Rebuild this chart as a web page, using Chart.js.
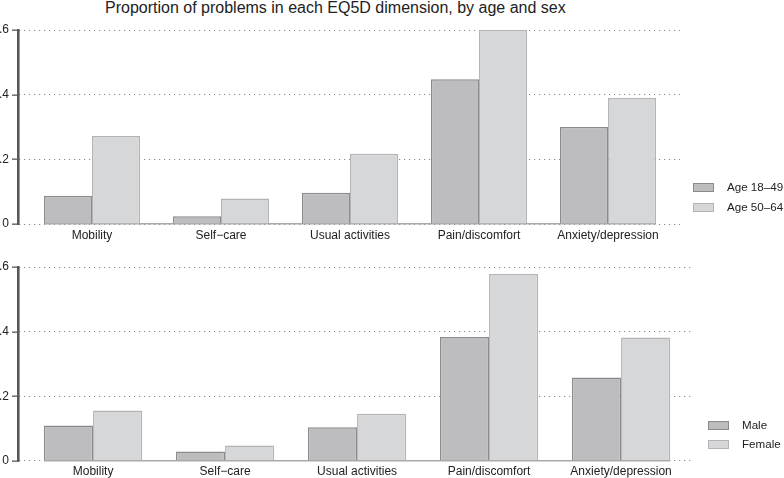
<!DOCTYPE html>
<html>
<head>
<meta charset="utf-8">
<script src="https://cdn.jsdelivr.net/npm/chart.js@4"></script>
<style>
  body { margin: 0; background: #fff; font-family: "Liberation Sans", Arial, sans-serif; }
  #wrap { position: relative; width: 784px; height: 478px; overflow: hidden; }
  #title { position: absolute; left: 105px; top: -1px; font-size: 16px; line-height: 18px; color: #222; white-space: nowrap; }
  canvas { position: absolute; left: 0; }
  .leg { position: absolute; font-size: 11.6px; color: #222; }
  .leg .row { position: absolute; left: 0; white-space: nowrap; height: 14px; line-height: 14px; }
  .leg .sw { position: absolute; left: 0; top: 2px; width: 19px; height: 7px; border: 1px solid; }
  .leg .tx { position: absolute; left: 34px; top: -1px; }
</style>
</head>
<body>
<div id="wrap">
  <div id="title">Proportion of problems in each EQ5D dimension, by age and sex</div>
  <canvas id="ageChart" style="top:0"></canvas>
  <canvas id="sexChart" style="top:245px"></canvas>
  <div id="ageLegend" class="leg" style="left:693px; top:181px"></div>
  <div id="sexLegend" class="leg" style="left:708px; top:419px"></div>
</div>
<script>
const categories = ["Mobility", "Self\u2212care", "Usual activities", "Pain/discomfort", "Anxiety/depression"];
const ageGroups = ["Age 18\u201349", "Age 50\u201364"];
const age1849 = [0.087, 0.024, 0.097, 0.448, 0.300];
const age5064 = [0.272, 0.079, 0.217, 0.600, 0.390];
const sexGroups = ["Male", "Female"];
const male = [0.109, 0.029, 0.104, 0.383, 0.258];
const female = [0.156, 0.047, 0.146, 0.578, 0.382];
const yTicks = [0, 0.2, 0.4, 0.6];

const darkFill = "#bdbdbf", darkLine = "#8b8b8d";
const lightFill = "#d6d7d9", lightLine = "#b4b4b6";

Chart.defaults.font.family = '"Liberation Sans", Arial, sans-serif';
Chart.defaults.color = "#222";

// solid baseline under the bars, from first bar to last bar
const baseline = {
  id: "baseline",
  beforeDatasetsDraw(chart) {
    const first = chart.getDatasetMeta(0).data[0];
    const lastMeta = chart.getDatasetMeta(chart.data.datasets.length - 1);
    const last = lastMeta.data[lastMeta.data.length - 1];
    const y = chart.scales.y.getPixelForValue(0);
    const ctx = chart.ctx;
    ctx.save();
    ctx.fillStyle = "#a9a9ab";
    ctx.fillRect(first.x - first.width / 2, Math.round(y) - 1, last.x - first.x + (first.width + last.width) / 2, 1.5);
    ctx.restore();
  }
};

// y axis line with small solid tick marks
const yAxisLine = {
  id: "yAxisLine",
  afterDraw(chart) {
    const s = chart.scales.y, ctx = chart.ctx;
    const x = Math.round(s.right);
    ctx.save();
    ctx.fillStyle = "#585858";
    ctx.fillRect(x - 2, s.top - 1, 2.6, s.bottom - s.top + 2);
    s.ticks.forEach(t => {
      const py = Math.round(s.getPixelForValue(t.value));
      ctx.fillRect(x - 7, py - 0.5, 6, 1.3);
    });
    ctx.restore();
  }
};

function makeChart(id, height, names, a, b, pad, xmin, xmax, xHeight) {
  const canvas = document.getElementById(id);
  canvas.style.width = "784px";
  canvas.style.height = height + "px";
  canvas.width = 784;
  canvas.height = height;
  return new Chart(canvas, {
    type: "bar",
    data: {
      datasets: [
        { label: names[0], data: a.map((v, i) => ({ x: i, y: v })),
          backgroundColor: darkFill, borderColor: darkLine, borderWidth: 1.5 },
        { label: names[1], data: b.map((v, i) => ({ x: i, y: v })),
          backgroundColor: lightFill, borderColor: lightLine, borderWidth: 1.5 }
      ]
    },
    options: {
      responsive: false,
      animation: false,
      categoryPercentage: 0.745,
      barPercentage: 1,
      layout: { padding: pad },
      plugins: { legend: { display: false }, tooltip: { enabled: false } },
      scales: {
        x: {
          type: "linear",
          offset: false,
          bounds: "data",
          min: xmin,
          max: xmax,
          grid: { display: false, drawTicks: false, offset: false },
          border: { display: false },
          afterBuildTicks: s => { s.ticks = categories.map((c, i) => ({ value: i })); },
          afterFit: s => { s.height = xHeight; },
          ticks: {
            autoSkip: false,
            maxRotation: 0,
            padding: 4,
            font: { size: 12 },
            color: "#222",
            callback: v => categories[v]
          }
        },
        y: {
          min: 0,
          max: 0.6,
          afterBuildTicks: s => { s.ticks = yTicks.map(v => ({ value: v })); },
          afterFit: s => { s.width = 19; },
          grid: { color: "#8a8a8a", lineWidth: 1, drawTicks: false },
          border: { display: false, dash: [1.2, 3.8] },
          ticks: {
            padding: 10,
            font: { size: 12 },
            color: "#222",
            callback: v => v === 0 ? "0" : v.toFixed(1).replace(/^0/, "")
          }
        }
      }
    },
    plugins: [baseline, yAxisLine]
  });
}

function makeLegend(id, names, gap) {
  const el = document.getElementById(id);
  const fills = [[darkFill, darkLine], [lightFill, lightLine]];
  names.forEach((n, i) => {
    const row = document.createElement("div");
    row.className = "row";
    row.style.top = (i * gap) + "px";
    row.innerHTML = '<span class="sw" style="background:' + fills[i][0] + ';border-color:' + fills[i][1] + '"></span><span class="tx">' + n + '</span>';
    el.appendChild(row);
  });
}

makeChart("ageChart", 245, ageGroups, age1849, age5064,
  { top: 30, right: 104, bottom: 0, left: 0 }, -0.566, 4.558, 21);
makeChart("sexChart", 233, sexGroups, male, female,
  { top: 22, right: 91, bottom: 0, left: 0 }, -0.561, 4.545, 17);
makeLegend("ageLegend", ageGroups, 20);
makeLegend("sexLegend", sexGroups, 19);
</script>
</body>
</html>
